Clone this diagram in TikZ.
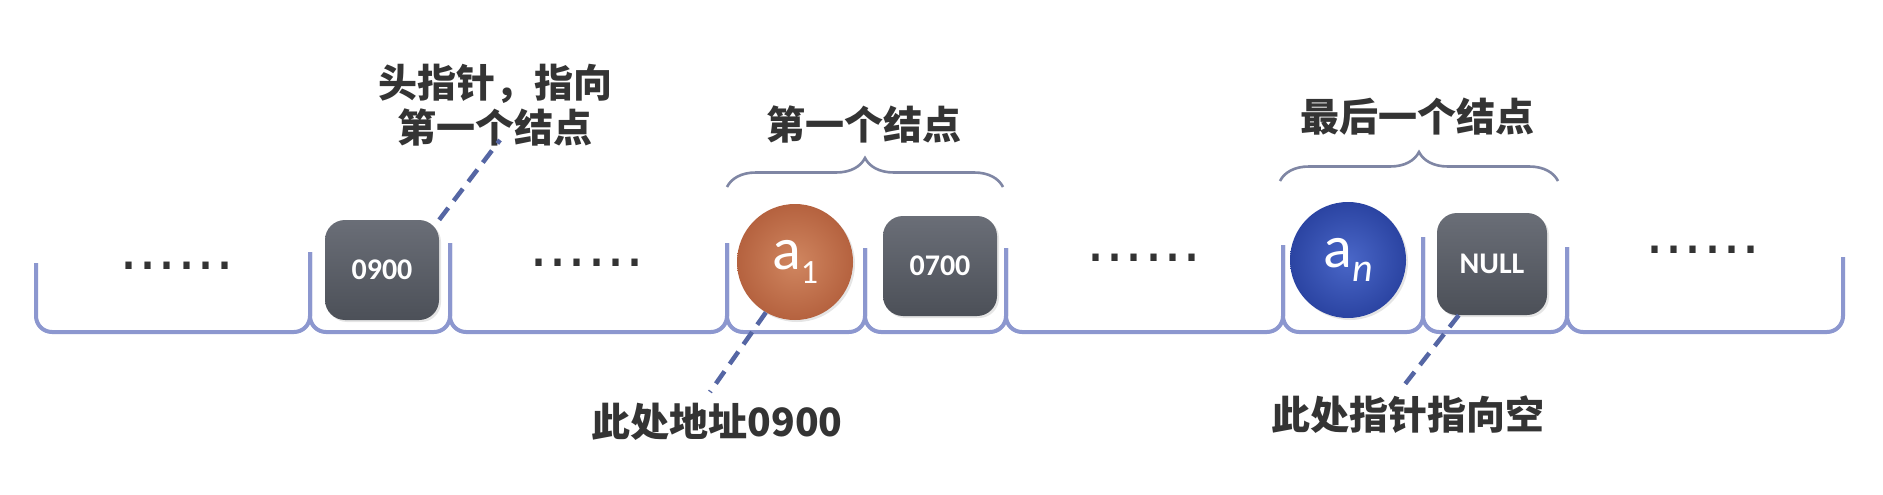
\documentclass[tikz,border=0pt]{standalone}
\usepackage{fontspec}
\setmainfont{Carlito}
\newfontfamily\cjk{Noto Sans CJK SC}
\newfontfamily\dvs{DejaVu Sans}
\usetikzlibrary{decorations.pathreplacing,shadows}
\definecolor{brk}{HTML}{8C97CF}
\definecolor{bracec}{HTML}{7F86A4}
\definecolor{ptrc}{HTML}{5566A4}
\definecolor{txt}{HTML}{343434}
\definecolor{dotc}{HTML}{333333}
\definecolor{boxtop}{HTML}{6A6E77}
\definecolor{boxbot}{HTML}{4C5058}
\definecolor{orin}{HTML}{D08660}
\definecolor{orout}{HTML}{B5623F}
\definecolor{blin}{HTML}{4A67C8}
\definecolor{blout}{HTML}{2B44A2}
\tikzset{
  seg/.style={draw=brk, line width=4pt, rounded corners=16pt},
  addr/.style={rectangle, rounded corners=20pt, minimum width=114pt, minimum height=100pt,
    top color=boxtop, bottom color=boxbot, text=white, inner sep=0pt,
    font=\bfseries\fontsize{30}{30}\selectfont,
    drop shadow={opacity=0.2, shadow xshift=2pt, shadow yshift=-2pt}},
  datum/.style={circle, minimum size=116pt, inner sep=0pt, text=white,
    font=\fontsize{60}{60}\selectfont,
    drop shadow={opacity=0.2, shadow xshift=2pt, shadow yshift=-2pt}},
  lbl/.style={text=txt, font=\cjk\bfseries\fontsize{39}{45}\selectfont, inner sep=0pt, align=center},
  ptr/.style={draw=ptrc, line width=4.5pt, dash pattern=on 15pt off 9pt},
  dotrow/.style={text=dotc, font=\dvs\fontsize{60}{60}\selectfont, inner sep=0pt},
  nodebrace/.style={draw=bracec, line width=2.6pt, decorate, decoration={brace, amplitude=29pt}},
}
\begin{document}
\begin{tikzpicture}[x=1pt,y=-1pt]
\useasboundingbox[fill=white] (0,0) rectangle (1883,495);

% bottom memory brackets
\draw[seg] (36,263) -- (36,332) -- (310,332) -- (310,252);
\draw[seg] (310,252) -- (310,332) -- (450,332) -- (450,243);
\draw[seg] (450,243) -- (450,332) -- (727,332) -- (727,243);
\draw[seg] (727,243) -- (727,332) -- (865,332) -- (865,248);
\draw[seg] (865,248) -- (865,332) -- (1006,332) -- (1006,248);
\draw[seg] (1006,248) -- (1006,332) -- (1283,332) -- (1283,245);
\draw[seg] (1283,245) -- (1283,332) -- (1423,332) -- (1423,237);
\draw[seg] (1423,237) -- (1423,332) -- (1567,332) -- (1567,247);
\draw[seg] (1567,247) -- (1567,332) -- (1843,332) -- (1843,257);

% dots
\node[dotrow] (d1) at (177,266) {......};
\node[dotrow] (d2) at (587,263) {......};
\node[dotrow] (d3) at (1144,258) {......};
\node[dotrow] (d4) at (1703,250) {......};

% cells
\node[addr] (b0900) at (382,270) {0900};
\node[datum, inner color=orin, outer color=orout] (a1) at (795,262)
  {a\raisebox{-0.22em}{\fontsize{34}{34}\selectfont 1}};
\node[addr] (b0700) at (940,266) {0700};
\node[datum, inner color=blin, outer color=blout] (an) at (1348,260)
  {a\raisebox{-0.22em}{\fontsize{40}{40}\selectfont\itshape n}};
\node[addr, minimum width=110pt, minimum height=102pt] (bnull) at (1492,264)
  {\fontsize{30}{30}\selectfont NULL};

% top braces and labels
\draw[nodebrace] (727,187) -- (1003,187);
\draw[nodebrace] (1280,181) -- (1558,181);
\node[lbl] (first) at (864,124) {第一个结点};
\node[lbl] (last) at (1417,117) {最后一个结点};

% head pointer
\node[lbl] (head) at (495,105) {头指针，指向\\第一个结点};
\coordinate (headend) at (500,140);
\draw[ptr] (b0900.north east) -- (headend);

% address label
\node[lbl] (addrlbl) at (717,422) {此处地址0900};
\coordinate (addrend) at (710,392);
\draw[ptr] (a1.240) -- (addrend);

% null label
\node[lbl] (nulllbl) at (1408,415) {此处指针指向空};
\coordinate (nullend) at (1402,388);
\draw[ptr] (bnull.237) -- (nullend);
\end{tikzpicture}
\end{document}
